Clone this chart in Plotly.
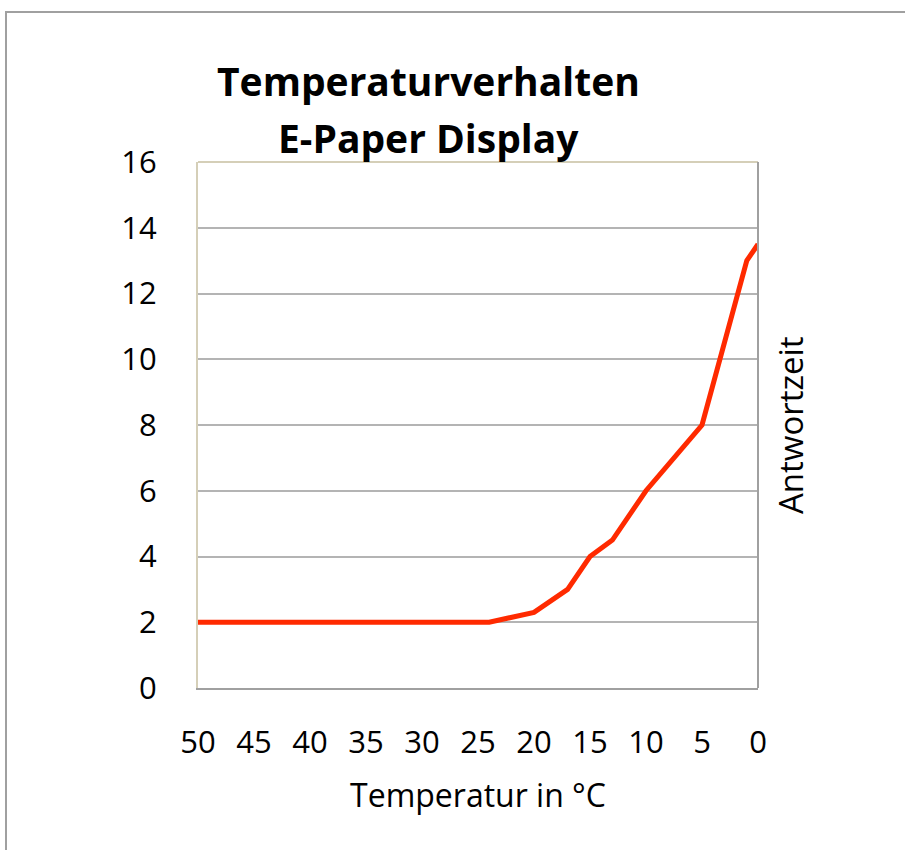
import plotly.graph_objects as go

temperatur = [50, 45, 40, 36, 30, 29, 26, 24, 20, 17, 15, 13, 10, 5, 1, 0]
antwortzeit = [2, 2, 2, 2, 2, 2, 2, 2, 2.3, 3, 4, 4.5, 6, 8, 13, 13.5]
x_ticks = [50, 45, 40, 35, 30, 25, 20, 15, 10, 5, 0]
y_ticks = [0, 2, 4, 6, 8, 10, 12, 14, 16]

FONT = "Open Sans"
W, H = 905, 850
L, R, T, B = 198, 147, 162, 162
pw, ph = W - L - R, H - T - B

def px(x):
    return (x - L) / pw

def py(y):
    return (H - B - y) / ph

fig = go.Figure()
fig.add_trace(go.Scatter(
    x=temperatur, y=antwortzeit, mode="lines",
    line=dict(color="#ff2a00", width=5), showlegend=False,
))

fig.update_layout(
    width=W, height=H,
    margin=dict(l=L, r=R, t=T, b=B),
    paper_bgcolor="white", plot_bgcolor="white",
    font=dict(family=FONT, color="black"),
    xaxis=dict(
        range=[50, 0], tickvals=x_ticks, ticktext=[str(v) for v in x_ticks],
        showgrid=False, zeroline=False, showline=True, linecolor="#a0a0a0",
        linewidth=2, ticks="", tickfont=dict(size=31, family=FONT),
        ticklabelstandoff=26,
        title=dict(text="Temperatur in °C", font=dict(size=32, family=FONT), standoff=23),
    ),
    yaxis=dict(
        range=[0, 16], tickvals=y_ticks, showgrid=True, gridcolor="#b4b4b4",
        gridwidth=2, zeroline=False, showline=True, linecolor="#d5cfb8",
        linewidth=2, ticks="", tickfont=dict(size=31, family=FONT),
        ticklabelstandoff=33,
    ),
    shapes=[
        dict(type="rect", xref="paper", yref="paper",
             x0=px(6), x1=px(915), y0=py(860), y1=py(12),
             line=dict(color="#a0a0a0", width=2), layer="below"),
        dict(type="line", xref="paper", yref="paper",
             x0=0, x1=1, y0=1, y1=1, line=dict(color="#d5cfb8", width=2)),
        dict(type="line", xref="paper", yref="paper",
             x0=1, x1=1, y0=0, y1=1, line=dict(color="#a0a0a0", width=2)),
    ],
    annotations=[
        dict(text="<b>Temperaturverhalten</b>", xref="paper", yref="paper",
             x=px(428), y=py(80), showarrow=False, xanchor="center", yanchor="middle",
             font=dict(size=39, family=FONT)),
        dict(text="<b>E-Paper Display</b>", xref="paper", yref="paper",
             x=px(428), y=py(137), showarrow=False, xanchor="center", yanchor="middle",
             font=dict(size=39, family=FONT)),
        dict(text="Antwortzeit", xref="paper", yref="paper", textangle=-90,
             x=px(790), y=py(425), showarrow=False, xanchor="center", yanchor="middle",
             font=dict(size=33, family=FONT)),
    ],
)

fig.write_html("out.html")
